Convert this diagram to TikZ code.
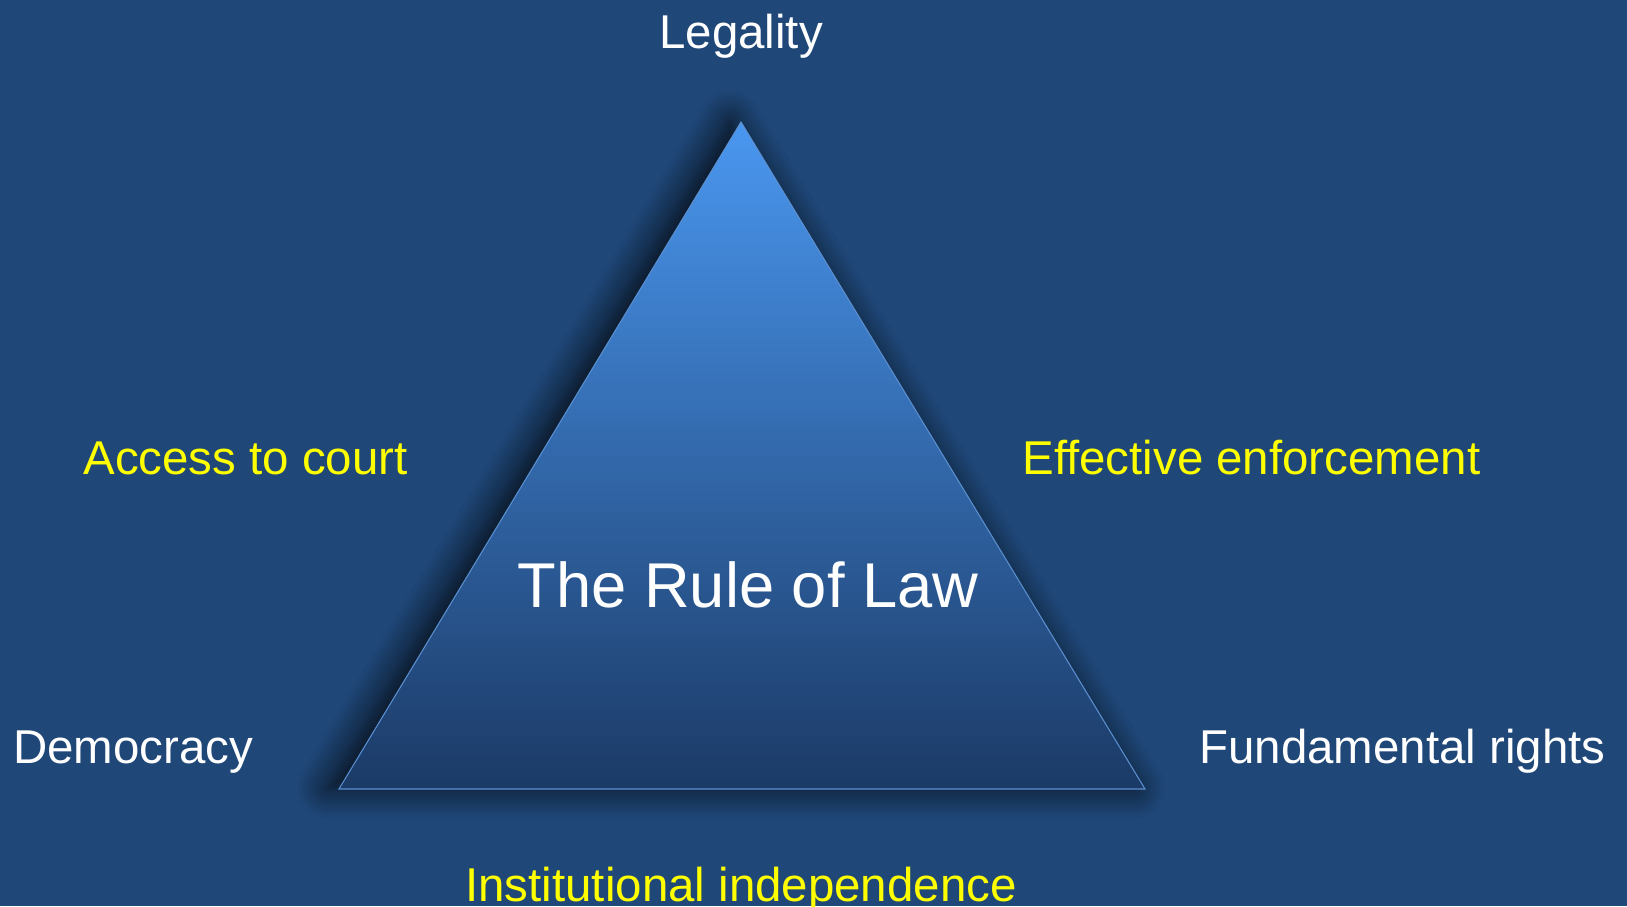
\documentclass[tikz,border=0pt]{standalone}
\usepackage{fontspec}
\setmainfont{Liberation Sans}
\usetikzlibrary{shadows.blur}

\definecolor{slide}{RGB}{31,71,120}
\definecolor{apexblue}{RGB}{74,151,240}
\definecolor{midblue}{RGB}{61,126,198}
\definecolor{baseblue}{RGB}{27,58,102}
\definecolor{rim}{RGB}{90,143,208}
\definecolor{pillaryellow}{RGB}{255,255,0}

\tikzset{
  pillar/.style={text=pillaryellow, font=\fontsize{27}{32}\selectfont, inner sep=0pt},
  corner/.style={text=white, font=\fontsize{27}{32}\selectfont, inner sep=0pt},
  title/.style={text=white, font=\fontsize{36}{43}\selectfont, inner sep=0pt},
}

\begin{document}
\begin{tikzpicture}
 \fill[slide] (0,0) rectangle (32.54,18.12);
 \useasboundingbox (0,0) rectangle (32.54,18.12);

 % corners of the triangle
 \coordinate (apex) at (14.82,15.68);
 \coordinate (bl) at (6.78,2.34);
 \coordinate (br) at (22.90,2.34);

 \path[blur shadow={shadow xshift=-0.22cm, shadow yshift=0.02cm, shadow blur radius=0.6cm, shadow blur steps=12, shadow opacity=85},
  top color=apexblue, middle color=midblue, bottom color=baseblue,
  draw=rim, line width=0.6pt] (apex) -- (br) -- (bl) -- cycle;

 \node [title, anchor=base] (rol) at (14.96,5.98) {The Rule of Law};

 \node [corner, anchor=base] (legality) at (14.82,17.14) {Legality};
 \node [corner, anchor=base west] (democracy) at (0.26,2.86) {Democracy};
 \node [corner, anchor=base west] (rights) at (23.98,2.86) {Fundamental rights};

 \node [pillar, anchor=base west] (access) at (1.66,8.64) {Access to court};
 \node [pillar, anchor=base west] (enforce) at (20.44,8.64) {Effective enforcement};
 \node [pillar, anchor=base] (indep) at (14.82,0.10) {Institutional independence};
\end{tikzpicture}
\end{document}
